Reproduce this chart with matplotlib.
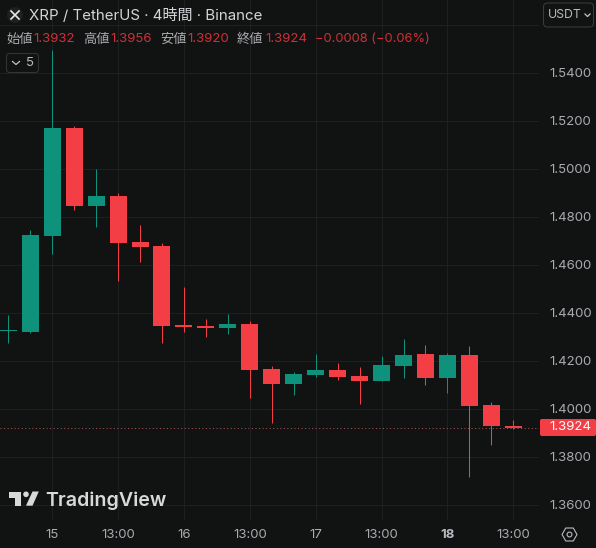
import matplotlib
matplotlib.use("Agg")
import matplotlib.pyplot as plt
from matplotlib.patches import FancyBboxPatch, Circle, RegularPolygon, Polygon
from matplotlib.transforms import ScaledTranslation

opens  = [1.4325,1.4322,1.4722,1.5172,1.4847,1.4889,1.4697,1.4680,1.4351,1.4347,1.4339,1.4355,1.4168,1.4105,1.4143,1.4164,1.4139,1.4118,1.4180,1.4230,1.4130,1.4226,1.4018,1.3932]
closes = [1.4325,1.4726,1.5172,1.4847,1.4889,1.4693,1.4676,1.4347,1.4343,1.4339,1.4355,1.4164,1.4105,1.4147,1.4164,1.4135,1.4118,1.4185,1.4226,1.4130,1.4226,1.4014,1.3930,1.3924]
highs  = [1.4393,1.4747,1.5497,1.5180,1.5001,1.4901,1.4768,1.4693,1.4510,1.4376,1.4397,1.4368,1.4180,1.4155,1.4230,1.4193,1.4176,1.4222,1.4293,1.4268,1.4235,1.4264,1.4030,1.3956]
lows   = [1.4276,1.4318,1.4647,1.4830,1.4760,1.4535,1.4614,1.4276,1.4322,1.4301,1.4314,1.4047,1.3943,1.4060,1.4135,1.4122,1.4022,1.4118,1.4130,1.4101,1.4068,1.3718,1.3851,1.3920]
price_ticks = [1.36,1.38,1.40,1.42,1.44,1.46,1.48,1.50,1.52,1.54,1.56]
price_labels = ["1.3600","1.3800","1.4000","1.4200","1.4400","1.4600","1.4800","1.5000","1.5200","1.5400",""]
time_ticks = [2,5,8,11,14,17,20,23]
time_labels = ["15","13:00","16","13:00","17","13:00","18","13:00"]
last_price = 1.3924

BG="#111212"; GRID="#1e1f1f"; UP="#0f927c"; DOWN="#f33e46"; TXT="#a9abb0"
FONT=["Inter","Noto Sans CJK JP","DejaVu Sans"]
plt.rcParams['font.family']=FONT

W,H=596,548
fig=plt.figure(figsize=(W/100,H/100),dpi=100,facecolor=BG)
R,B=539,520
ax=fig.add_axes([0,(H-B)/H,R/W,B/H],facecolor=BG)
step=21.957; x0=8.3
ax.set_xlim((0-x0)/step,(R-x0)/step)
ppu=2400; y14=409.3
ax.set_ylim(1.40+(y14-B)/ppu,1.40+y14/ppu)
ax.set_axisbelow(True)
ax.grid(True,color=GRID,lw=0.75)
for s in ax.spines.values(): s.set_visible(False)

n=range(len(opens))
cols=[UP if c>=o and not (o==c and i>0) else DOWN for i,(o,c) in enumerate(zip(opens,closes))]
ax.vlines(list(n),lows,highs,colors=cols,lw=0.75,zorder=3)
bottoms=[min(o,c) for o,c in zip(opens,closes)]
heights=[max(abs(o-c),0.0004) for o,c in zip(opens,closes)]
ax.bar(list(n),heights,bottom=bottoms,width=17/step,color=cols,lw=0,zorder=4)
ax.axhline(last_price,color="#a8545a",lw=0.75,ls=(0,(1,2.4)),zorder=2)

ax.yaxis.tick_right()
ax.set_yticks(price_ticks,price_labels)
ax.set_xticks(time_ticks,time_labels)
ax.tick_params(axis='both',length=0,labelcolor=TXT,labelsize=9.5)
ax.tick_params(axis='y',pad=7.2)
ax.tick_params(axis='x',pad=6.2)
up=ScaledTranslation(0,1.2/100,fig.dpi_scale_trans)
for lab in ax.get_yticklabels():
    lab.set_transform(lab.get_transform()+up)
for lab in ax.get_xticklabels():
    if lab.get_text()=="18":
        lab.set_fontweight("bold"); lab.set_color("#b8babf")

ov=fig.add_axes([0,0,1,1]); ov.set_xlim(0,W); ov.set_ylim(H,0); ov.axis("off"); ov.patch.set_alpha(0)

# last price tag
ov.add_patch(FancyBboxPatch((540.5,419.5),55,16,boxstyle="round,pad=0,rounding_size=1.5",fc=DOWN,ec=DOWN,lw=0.75))
ov.text(549,427.5,"1.3924",color="white",fontsize=9.5,va="center",ha="left")

# title row
ov.add_patch(Circle((15,15),8,fc="#1e1f20",ec="none"))
ov.plot([11,19],[11,19],color="#e6e6e6",lw=1.2); ov.plot([19,11],[11,19],color="#e6e6e6",lw=1.2)
ov.text(29,15.5,"XRP / TetherUS · 4時間 · Binance",color="#d4d5d8",fontsize=10.85,va="center",ha="left")

# OHLC legend
LG="#a9abb0"; LR="#cf3039"
for x,t,c,fs in [(6,"始値",LG,9.5),(33,"1.3932",LR,9.5),(83,"高値",LG,9.5),(110,"1.3956",LR,9.5),(160,"安値",LG,9.5),(187.5,"1.3920",LR,9.5),
              (237,"終値",LG,9.5),(265,"1.3924",LR,9.5),(315,"−0.0008 (−0.06%)",LR,9.25)]:
    ov.text(x,39.5,t,color=c,fontsize=fs,va="center",ha="left")

# collapse button
ov.add_patch(FancyBboxPatch((6.5,53.5),32,19,boxstyle="round,pad=0,rounding_size=3",fc=BG,ec="#333436",lw=0.75))
ov.plot([12.5,16,19.5],[61.5,64.5,61.5],color="#c4c5c8",lw=0.9)
ov.text(26,63.5,"5",color="#b9babe",fontsize=9.5,va="center",ha="left")

# currency button
ov.add_patch(FancyBboxPatch((543.5,3),50,24,boxstyle="round,pad=0,rounding_size=4",fc=BG,ec="#3a3b3d",lw=0.75))
ov.text(547.5,15,"USDT",color="#b9babe",fontsize=8.8,va="center",ha="left")
ov.plot([585,587.5,590],[14,16.5,14],color="#c4c5c8",lw=0.9)

# settings icon
ov.add_patch(RegularPolygon((569.5,534.5),6,radius=7.5,orientation=0.5236,fc="none",ec="#b9babe",lw=0.8))
ov.add_patch(Circle((569.5,534.5),2.4,fc="none",ec="#b9babe",lw=0.8))

# logo
LOGO="#d9d9d9"
ov.add_patch(Polygon([(9,491.5),(21,491.5),(21,505.7),(15,505.7),(15,497.5),(9,497.5)],fc=LOGO,ec="none"))
ov.add_patch(Circle((26,494.3),2.8,fc=LOGO,ec="none"))
ov.add_patch(Polygon([(32.5,491.5),(38.8,491.5),(32.5,505.7),(26,505.7)],fc=LOGO,ec="none"))
ov.text(45.5,505.8,"TradingView",color=LOGO,fontsize=14.1,fontweight="semibold",va="baseline",ha="left")

fig.savefig("out.png",dpi=100,facecolor=BG)
